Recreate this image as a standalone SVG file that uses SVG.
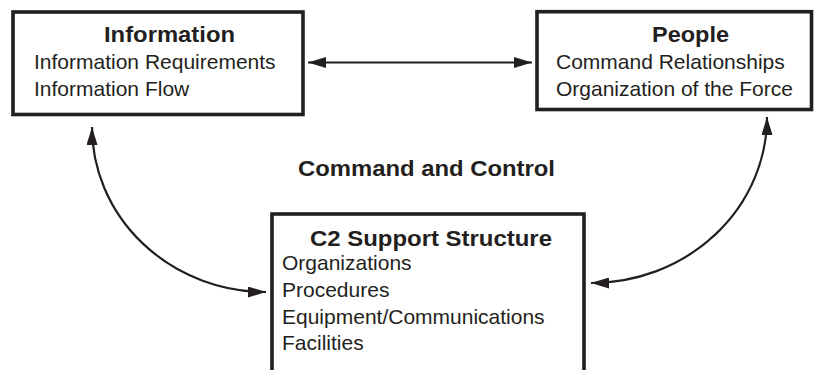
<svg xmlns="http://www.w3.org/2000/svg" width="814" height="370" viewBox="0 0 814 370">
  <style>
    .box { fill: #ffffff; stroke: #231f20; stroke-width: 3.6; }
    .conn { fill: none; stroke: #231f20; stroke-width: 2.2; }
    .t { font-family: "Liberation Sans", Arial, Helvetica, sans-serif; font-size: 21px; fill: #231f20; }
    .h { font-family: "Liberation Sans", Arial, Helvetica, sans-serif; font-size: 22px; font-weight: bold; fill: #231f20; }
  </style>
  <defs>
    <marker id="arr" viewBox="0 0 18 11" refX="18" refY="5.5" markerWidth="18" markerHeight="11" markerUnits="userSpaceOnUse" orient="auto-start-reverse">
      <path d="M0,0 L18,5.5 L0,11 Z" fill="#231f20"/>
    </marker>
  </defs>
  <rect width="814" height="370" fill="#ffffff"/>
  <g id="connectors">
    <path class="conn" d="M308 62.5 L532 62.5" marker-start="url(#arr)" marker-end="url(#arr)"/>
    <path class="conn" d="M92 127 A174 165 0 0 0 266 292" marker-start="url(#arr)" marker-end="url(#arr)"/>
    <path class="conn" d="M767 117 A176 166 0 0 1 591 283" marker-start="url(#arr)" marker-end="url(#arr)"/>
  </g>
  <g id="information">
    <rect class="box" x="13" y="12" width="290" height="102.5"/>
    <text class="h" x="104" y="42" textLength="131" lengthAdjust="spacingAndGlyphs">Information</text>
    <text class="t" x="34" y="68.5">Information Requirements</text>
    <text class="t" x="34" y="96">Information Flow</text>
  </g>
  <g id="people">
    <rect class="box" x="537" y="11.7" width="274.5" height="97.8"/>
    <text class="h" x="652" y="42" textLength="77" lengthAdjust="spacingAndGlyphs">People</text>
    <text class="t" x="556" y="68.5">Command Relationships</text>
    <text class="t" x="556" y="96">Organization of the Force</text>
  </g>
  <g id="title">
    <text class="h" x="298" y="176" textLength="257" lengthAdjust="spacingAndGlyphs">Command and Control</text>
  </g>
  <g id="c2support">
    <rect class="box" x="272" y="214" width="312" height="170"/>
    <text class="h" x="310" y="246" textLength="242" lengthAdjust="spacingAndGlyphs">C2 Support Structure</text>
    <text class="t" x="282" y="270">Organizations</text>
    <text class="t" x="282" y="297">Procedures</text>
    <text class="t" x="282" y="323.5">Equipment/Communications</text>
    <text class="t" x="282" y="350">Facilities</text>
  </g>
</svg>
